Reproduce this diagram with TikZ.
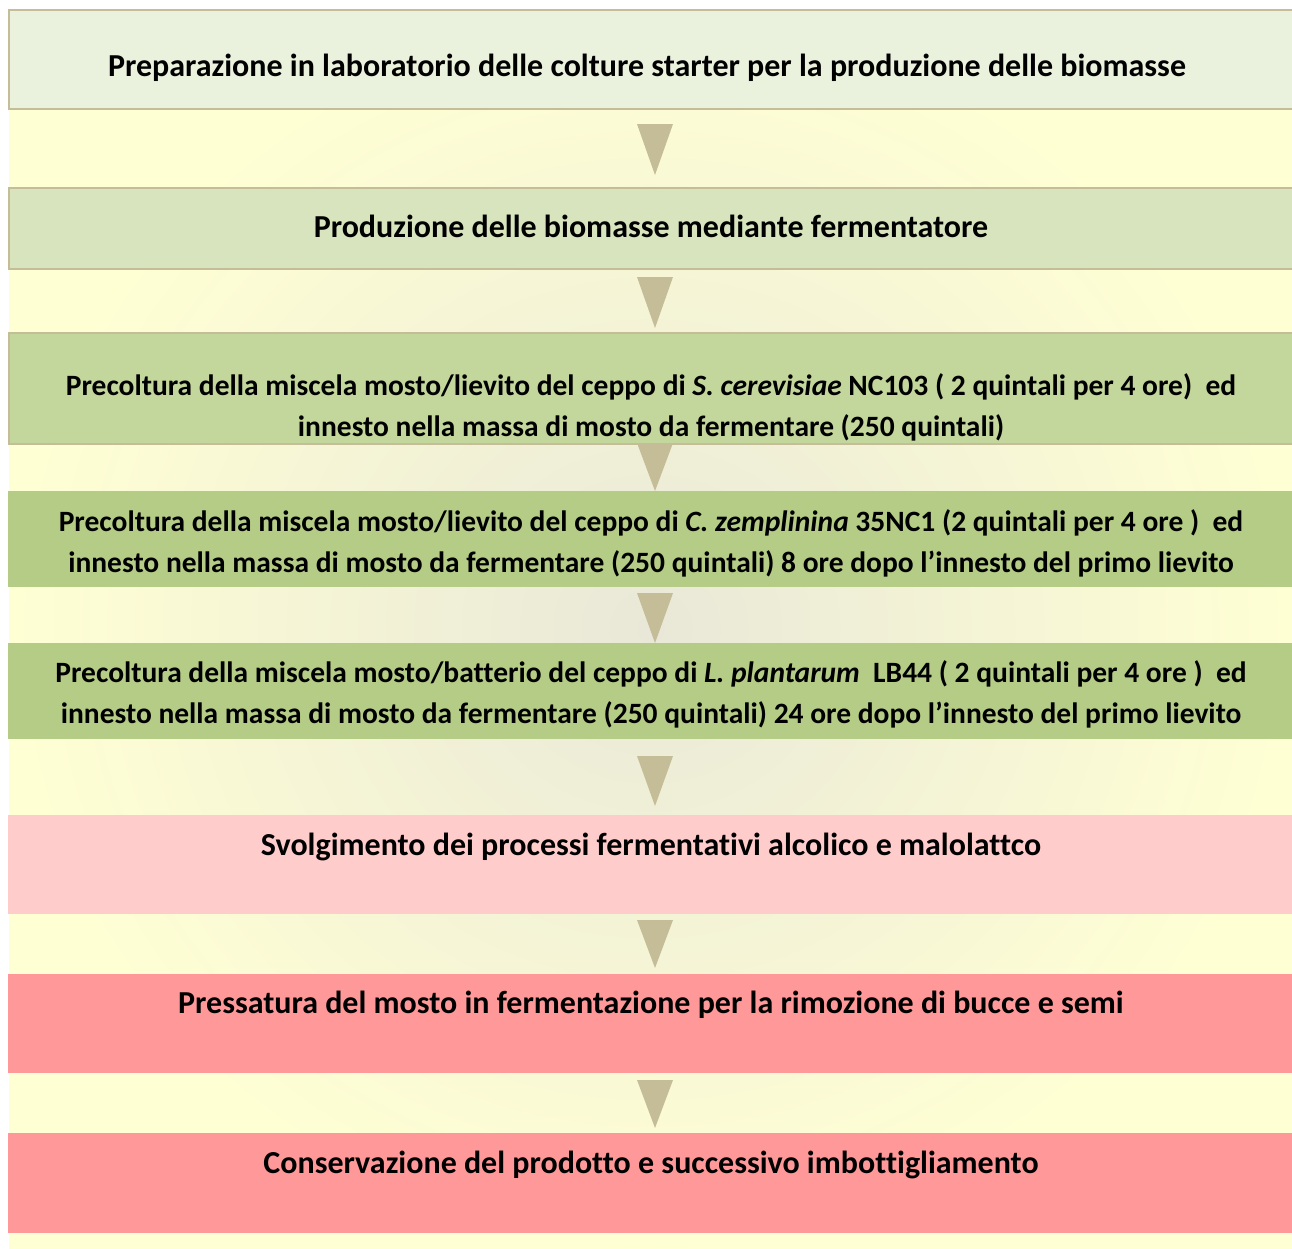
\documentclass[tikz,border=0pt]{standalone}
\usepackage{fontspec}
\setmainfont{Carlito}[Ligatures=NoCommon]
\usetikzlibrary{positioning}

\definecolor{tanline}{HTML}{C4BD97}
\definecolor{bgyellow}{HTML}{FFFFD4}
\definecolor{bggrey}{HTML}{E9E8D8}
\definecolor{greenA}{HTML}{EAF1DD}
\definecolor{greenB}{HTML}{D7E4BD}
\definecolor{greenC}{HTML}{C3D69B}
\definecolor{greenD}{HTML}{B4CC85}
\definecolor{pinkA}{HTML}{FFCCCC}
\definecolor{pinkB}{HTML}{FF9999}

\tikzset{
    stepbox/.style={rectangle, anchor=north west, minimum width=1284pt, inner sep=0pt},
    steptext/.style={font=\fontsize{32}{41}\selectfont\bfseries, align=center, inner sep=0pt},
    longtext/.style={steptext, font=\fontsize{29.5}{41}\selectfont\bfseries},
}

\begin{document}
\begin{tikzpicture}[x=1pt, y=-1pt]
            \useasboundingbox (0, 0) rectangle (1292, 1248);
            % Sfondo sfumato
            \shade[inner color=bggrey, outer color=bgyellow] (9, 9) rectangle (1292, 1248);

            % Riquadri delle fasi
            \node[stepbox, fill=greenA, draw=tanline, line width=1.5pt, minimum height=99pt] (prep) at (8, 9) {};
            \node[stepbox, fill=greenB, draw=tanline, line width=1.5pt, minimum height=81pt] (prod) at (8, 187) {};
            \node[stepbox, fill=greenC, draw=tanline, line width=1.5pt, minimum height=111pt] (sacc) at (8, 332) {};
            \node[stepbox, fill=greenD, minimum height=96pt] (zemp) at (8, 491) {};
            \node[stepbox, fill=greenD, minimum height=96pt] (plant) at (8, 643) {};
            \node[stepbox, fill=pinkA, minimum height=99pt] (ferm) at (8, 815) {};
            \node[stepbox, fill=pinkB, minimum height=99pt] (press) at (8, 974) {};
            \node[stepbox, fill=pinkB, minimum height=100pt] (cons) at (8, 1133) {};

            % Frecce tra le fasi
            \foreach \top/\tip in {124/175, 277/328, 443/491, 593/643, 756/806, 920/968, 1080/1128} {
                    \fill[tanline] (637, \top) -- (673, \top) -- (655, \tip) -- cycle;
                }

            % Testi
            \node[steptext] (prep-t) at (647, 68) {Preparazione in laboratorio delle colture starter per la produzione delle biomasse};
            \node[steptext] (prod-t) at (651, 226) {Produzione delle biomasse mediante fermentatore};
            \node[longtext] (sacc-t) at (651, 407) {Precoltura della miscela mosto/lievito del ceppo di \textit{S. cerevisiae} NC103 ( 2 quintali per 4 ore)\ \ ed\\innesto nella massa di mosto da fermentare (250 quintali)};
            \node[longtext] (zemp-t) at (651, 543) {Precoltura della miscela mosto/lievito del ceppo di \textit{C. zemplinina} 35NC1 (2 quintali per 4 ore )\ \ ed\\innesto nella massa di mosto da fermentare (250 quintali) 8 ore dopo l’innesto del primo lievito};
            \node[longtext] (plant-t) at (651, 694) {Precoltura della miscela mosto/batterio del ceppo di \textit{L. plantarum}\ \ LB44 ( 2 quintali per 4 ore )\ \ ed\\innesto nella massa di mosto da fermentare (250 quintali) 24 ore dopo l’innesto del primo lievito};
            \node[steptext] (ferm-t) at (651, 847) {Svolgimento dei processi fermentativi alcolico e malolattco};
            \node[steptext] (press-t) at (651, 1005) {Pressatura del mosto in fermentazione per la rimozione di bucce e semi};
            \node[steptext] (cons-t) at (651, 1165) {Conservazione del prodotto e successivo imbottigliamento};
        \end{tikzpicture}
\end{document}
